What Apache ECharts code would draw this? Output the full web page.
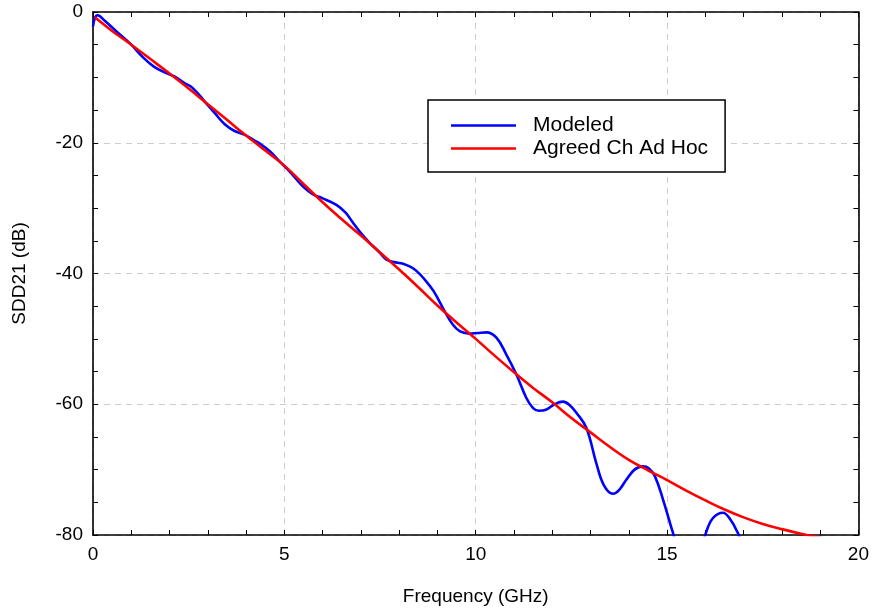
<!DOCTYPE html>
<html>
<head>
<meta charset="utf-8">
<script src="https://cdn.jsdelivr.net/npm/echarts@6/dist/echarts.min.js"></script>
<style>
html,body{margin:0;padding:0;background:#fff;}
#chart{width:872px;height:611px;}
</style>
</head>
<body>
<div id="chart"></div>
<script>
var xTicks = [0, 5, 10, 15, 20];
var yTicks = [-80, -60, -40, -20, 0];
var seriesNames = ['Modeled', 'Agreed Ch Ad Hoc'];

var modeledFreq = [0.00, 0.05, 0.12, 0.3, 0.6, 1.0, 1.3, 1.6, 1.9, 2.14, 2.4, 2.6, 2.92, 3.2, 3.45, 3.7, 3.97, 4.2, 4.4, 4.62, 4.9, 5.14, 5.49, 5.75, 6.0, 6.36, 6.6, 6.79, 7.0, 7.23, 7.49, 7.67, 7.9, 8.1, 8.3, 8.45, 8.65, 8.9, 9.19, 9.4, 9.58, 9.84, 10.05, 10.28, 10.54, 10.8, 11.06, 11.32, 11.5, 11.65, 11.85, 12.06, 12.28, 12.45, 12.63, 12.89, 13.15, 13.35, 13.59, 13.75, 13.93, 14.15, 14.37, 14.52, 14.68, 14.89, 15.15, 15.4, 15.6, 15.8, 16.02, 16.2, 16.46, 16.65, 16.85, 17.0, 17.3];
var modeledDb = [-2.2, -0.9, -0.5, -1.3, -2.9, -5.0, -6.9, -8.4, -9.3, -9.9, -10.9, -11.6, -13.7, -15.6, -17.2, -18.2, -18.8, -19.6, -20.3, -21.3, -23.0, -24.4, -26.7, -27.9, -28.5, -29.5, -30.7, -32.2, -33.8, -35.3, -36.8, -37.9, -38.3, -38.5, -39.0, -39.6, -40.8, -42.7, -45.8, -47.8, -48.8, -49.2, -49.1, -49.0, -49.8, -52.4, -55.4, -59.0, -60.6, -61.0, -60.8, -60.0, -59.6, -60.1, -61.3, -63.6, -69.0, -72.4, -73.7, -73.1, -71.6, -70.0, -69.5, -69.8, -71.0, -74.5, -79.6, -84.0, -85.5, -84.0, -79.6, -77.4, -76.6, -77.6, -79.7, -82.0, -86.0];

var adHocFreq = [0.05, 0.5, 1, 1.5, 2, 2.5, 3, 3.5, 4, 4.5, 5, 5.5, 6, 6.5, 7, 7.5, 8, 8.5, 9, 9.5, 10, 10.5, 11, 11.5, 12, 12.5, 13, 13.5, 14, 14.5, 15, 15.5, 16, 16.5, 17, 17.5, 18, 18.5, 19, 19.5, 20];
var adHocDb = [-0.8, -2.9, -5.0, -7.2, -9.4, -11.7, -14.1, -16.5, -18.9, -21.2, -23.5, -26.3, -29.1, -31.7, -34.2, -36.8, -39.4, -42.1, -44.9, -47.5, -50.0, -52.6, -55.1, -57.5, -59.7, -62.1, -64.3, -66.5, -68.5, -70.1, -71.6, -73.2, -74.7, -76.1, -77.3, -78.3, -79.1, -79.8, -80.4, -81.0, -81.5];

function zip(a, b) { return a.map(function (v, i) { return [v, b[i]]; }); }

var FONT = 'Liberation Sans';
var chart = echarts.init(document.getElementById('chart'));

function frameAxis(extra, split) {
  return Object.assign({
    axisLine: { show: true, onZero: false, lineStyle: { color: '#000', width: 1.6 } },
    axisTick: { show: true, inside: true, length: 5, lineStyle: { color: '#000', width: 1 } },
    minorTick: { show: true, splitNumber: split, length: 5, lineStyle: { color: '#000', width: 1 } }
  }, extra);
}

var option = {
  backgroundColor: '#fff',
  animation: false,
  grid: { left: 93, right: 13, top: 12, bottom: 75, containLabel: false },
  legend: {
    data: seriesNames,
    orient: 'vertical',
    left: 428, top: 100,
    padding: [14, 17, 12, 23],
    itemGap: 0,
    icon: 'rect',
    itemWidth: 65, itemHeight: 2.6,
    borderColor: '#000', borderWidth: 1.5,
    backgroundColor: '#fff',
    textStyle: { fontFamily: FONT, fontSize: 21, color: '#000', lineHeight: 23, padding: [0, 0, 0, 12] }
  },
  xAxis: [
    frameAxis({
      type: 'value', min: xTicks[0], max: xTicks[xTicks.length - 1], interval: xTicks[1] - xTicks[0],
      position: 'bottom',
      name: 'Frequency (GHz)', nameLocation: 'middle', nameGap: 52,
      nameTextStyle: { fontFamily: FONT, fontSize: 19, color: '#000' },
      axisLabel: { fontFamily: FONT, fontSize: 19, color: '#000', margin: 10 },
      splitLine: { show: true, lineStyle: { color: '#cccccc', type: [6, 5], width: 1 } }
    }, 5),
    frameAxis({
      type: 'value', min: xTicks[0], max: xTicks[xTicks.length - 1], interval: xTicks[1] - xTicks[0],
      position: 'top',
      axisLabel: { show: false },
      splitLine: { show: false }
    }, 5)
  ],
  yAxis: [
    frameAxis({
      type: 'value', min: yTicks[0], max: yTicks[yTicks.length - 1], interval: yTicks[1] - yTicks[0],
      position: 'left',
      name: 'SDD21 (dB)', nameLocation: 'middle', nameGap: 64,
      nameTextStyle: { fontFamily: FONT, fontSize: 19, color: '#000' },
      axisLabel: { fontFamily: FONT, fontSize: 19, color: '#000', margin: 10 },
      splitLine: { show: true, lineStyle: { color: '#cccccc', type: [6, 5], width: 1 } }
    }, 4),
    frameAxis({
      type: 'value', min: yTicks[0], max: yTicks[yTicks.length - 1], interval: yTicks[1] - yTicks[0],
      position: 'right',
      axisLabel: { show: false },
      splitLine: { show: false }
    }, 4)
  ],
  series: [
    {
      name: seriesNames[0], type: 'line', smooth: 0.4, showSymbol: false, symbol: 'none',
      clip: true, xAxisIndex: 0, yAxisIndex: 0,
      lineStyle: { color: '#0000ff', width: 2.6 }, itemStyle: { color: '#0000ff' },
      data: zip(modeledFreq, modeledDb), z: 3
    },
    {
      name: seriesNames[1], type: 'line', smooth: 0.4, showSymbol: false, symbol: 'none',
      clip: true, xAxisIndex: 0, yAxisIndex: 0,
      lineStyle: { color: '#ff0000', width: 2.6 }, itemStyle: { color: '#ff0000' },
      data: zip(adHocFreq, adHocDb), z: 4
    }
  ]
};
chart.setOption(option);
</script>
</body>
</html>
